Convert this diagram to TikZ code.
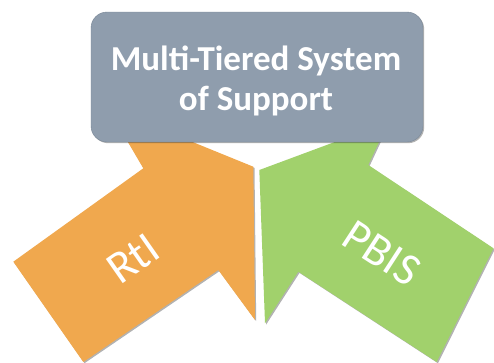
\documentclass[tikz,border=0pt]{standalone}
\usepackage{fontspec}
\setmainfont{Carlito}
\usetikzlibrary{shadows}
\definecolor{boxgray}{RGB}{143,157,173}
\definecolor{boxedge}{RGB}{120,134,150}
\definecolor{rtiorange}{RGB}{240,168,78}
\definecolor{pbisgreen}{RGB}{161,209,108}
\begin{document}
\begin{tikzpicture}[x=1pt,y=-1pt,
  softshadow/.style={drop shadow={shadow xshift=1.2pt,shadow yshift=-1.2pt,opacity=0.3,fill=black}},
  arrowshape/.style={softshadow},
  mtssbox/.style={rectangle,rounded corners=16pt,fill=boxgray,draw=boxedge,line width=0.4pt,
    minimum width=332pt,minimum height=130pt,softshadow},
  titletext/.style={text=white,align=center,inner sep=0pt,
    font=\fontsize{35}{40}\bfseries\selectfont},
  lbl/.style={text=white,inner sep=0pt,font=\fontsize{46}{50}\selectfont}]
\useasboundingbox (0,0) rectangle (494,362);
% RtI arrow
\fill[rtiorange,arrowshape] (122,132) -- (143.3,168.3) -- (13.3,261.7) -- (83.3,362)
  -- (218.3,270) -- (255,320) -- (253.3,166.7) -- (168,132) -- cycle;
% PBIS arrow
\fill[pbisgreen,arrowshape] (383.7,132) -- (368.3,165) -- (493.5,248.3) -- (436.7,362)
  -- (298.3,271.7) -- (265,323.3) -- (259.3,170) -- (361.6,132) -- cycle;
\node[lbl,rotate=35] (rti) at (133,259) {RtI};
\node[lbl,rotate=-33] (pbis) at (382,253) {PBIS};
% MTSS box
\node[mtssbox] (mtss) at (257,77) {};
\node[titletext] (title) at (256,81) {Multi-Tiered System\\of Support};
\end{tikzpicture}
\end{document}
